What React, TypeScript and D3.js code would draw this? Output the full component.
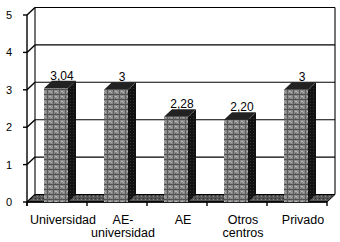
import * as React from 'react';
import * as d3 from 'd3';

const categories = ['Universidad', 'AE-universidad', 'AE', 'Otros centros', 'Privado'];
const categoryLines = [['Universidad'], ['AE-', 'universidad'], ['AE'], ['Otros', 'centros'], ['Privado']];
const values = [3.04, 3, 2.28, 2.2, 3];
const valueLabels = ['3,04', '3', '2,28', '2,20', '3'];
const yTicks = [0, 1, 2, 3, 4, 5];

const width = 340;
const height = 242;
const depth = { dx: 8, dy: -7.5 };
const font = 'Arial, "Liberation Sans", sans-serif';

export default function App() {
  const x = d3.scaleBand<string>().domain(categories).range([27, 327]).padding(0);
  const y = d3.scaleLinear().domain([0, 5]).range([202, 15]);

  const bw = x.bandwidth() * 0.4;
  const off = (x.bandwidth() - bw) / 2 - 1;
  const x0 = x.range()[0];
  const x1 = x.range()[1];
  const { dx, dy } = depth;

  return (
    <div style={{ position: 'fixed', left: 0, top: 0 }}>
      <svg width={width} height={height} style={{ display: 'block', background: '#fff' }}>
        <defs>
          <pattern id="front" width={6} height={5} patternUnits="userSpaceOnUse">
            <rect width={6} height={5} fill="#8a8a8a" />
            <rect x={0} y={4} width={6} height={1} fill="#4e4e4e" />
            <rect x={5} y={0} width={1} height={5} fill="#5a5a5a" />
            <rect x={1} y={1} width={2} height={1} fill="#b8b8b8" />
            <rect x={3} y={2} width={1} height={1} fill="#a8a8a8" />
            <rect x={1} y={3} width={1} height={1} fill="#6a6a6a" />
          </pattern>
          <pattern id="floor" width={4} height={3} patternUnits="userSpaceOnUse">
            <rect width={4} height={3} fill="#555" />
            <rect x={1} y={1} width={1} height={1} fill="#8a8a8a" />
            <rect x={3} y={0} width={1} height={1} fill="#2a2a2a" />
          </pattern>
          <pattern id="side" width={3} height={3} patternUnits="userSpaceOnUse">
            <rect width={3} height={3} fill="#121212" />
            <rect x={1} y={1} width={1} height={1} fill="#333" />
          </pattern>
        </defs>

        {/* back wall */}
        <g stroke="#000" strokeWidth={1.1} fill="none">
          {yTicks.slice(1).map(t => (
            <line key={t} x1={x0 + dx} x2={x1 + dx} y1={y(t) + dy} y2={y(t) + dy} />
          ))}
          <line x1={x1 + dx} x2={x1 + dx} y1={y(5) + dy} y2={y(0) + dy} />
          <line x1={x0 + dx} x2={x0 + dx} y1={y(5) + dy} y2={y(0) + dy} />
        </g>

        {/* side wall + axis */}
        <g stroke="#000" strokeWidth={1.4} fill="none">
          <line x1={x0} x2={x0} y1={y(5)} y2={y(0) + 4} />
          {yTicks.map(t => (
            <g key={t}>
              <line x1={x0 - 4} x2={x0} y1={y(t)} y2={y(t)} />
              <line x1={x0} x2={x0 + dx} y1={y(t)} y2={y(t) + dy} />
            </g>
          ))}
        </g>

        {/* floor */}
        <polygon
          points={`${x0},${y(0)} ${x1},${y(0)} ${x1 + dx},${y(0) + dy} ${x0 + dx},${y(0) + dy}`}
          fill="url(#floor)"
          stroke="#000"
          strokeWidth={1}
        />
        <line x1={x0} x2={x1} y1={y(0)} y2={y(0)} stroke="#000" strokeWidth={1.4} />
        <g stroke="#000" strokeWidth={1.4}>
          {[...categories.map(c => x(c) as number), x1].map((v, i) => (
            <line key={i} x1={v} x2={v} y1={y(0)} y2={y(0) + 4} />
          ))}
        </g>

        {/* bars */}
        {categories.map((c, i) => {
          const bx = (x(c) as number) + off;
          const top = y(values[i]);
          const bot = y(0);
          return (
            <g key={c}>
              <rect x={bx} y={top} width={bw} height={bot - top} fill="url(#front)" />
              <polygon
                points={`${bx + bw},${top} ${bx + bw + dx},${top + dy} ${bx + bw + dx},${bot + dy} ${bx + bw},${bot}`}
                fill="url(#side)"
              />
              <polygon
                points={`${bx},${top} ${bx + dx},${top + dy} ${bx + bw + dx},${top + dy} ${bx + bw},${top}`}
                fill="#222"
              />
              <text
                x={bx + (bw + dx) / 2 + 2}
                y={top + dy - 1}
                textAnchor="middle"
                fontFamily={font}
                fontSize={12}
                fill="#000"
              >
                {valueLabels[i]}
              </text>
            </g>
          );
        })}

        {/* y tick labels */}
        {yTicks.map(t => (
          <text key={t} x={12} y={y(t) + 4} textAnchor="end" fontFamily={font} fontSize={11} fill="#000">
            {t}
          </text>
        ))}

        {/* category labels */}
        {categories.map((c, i) => {
          const cx = (x(c) as number) + x.bandwidth() / 2 + 6;
          return (
            <text key={c} x={cx} y={224} textAnchor="middle" fontFamily={font} fontSize={12.5} fill="#000">
              {categoryLines[i].map((line, j) => (
                <tspan key={j} x={cx} dy={j === 0 ? 0 : 13}>
                  {line}
                </tspan>
              ))}
            </text>
          );
        })}
      </svg>
    </div>
  );
}
